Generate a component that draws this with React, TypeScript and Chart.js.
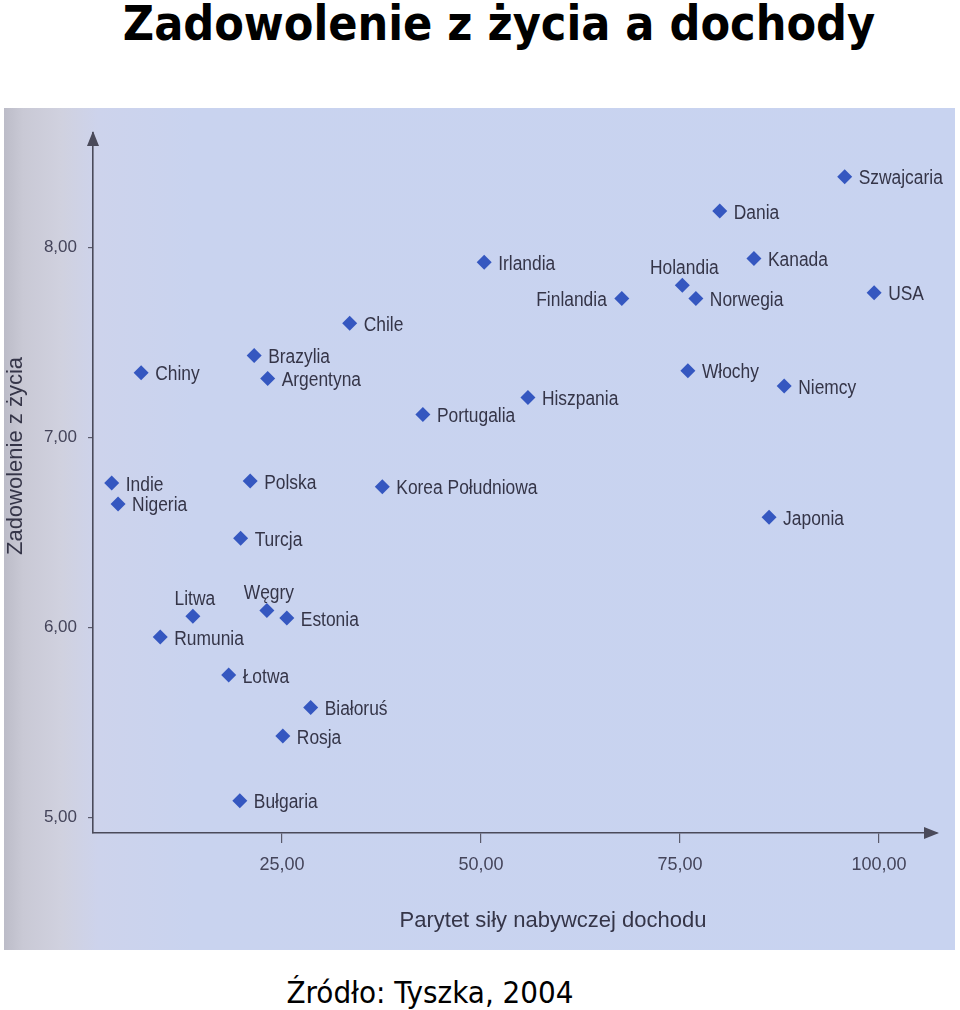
import React, { useEffect, useRef } from "react";
import { Chart, registerables } from "chart.js";

Chart.register(...registerables);

const countries = [
  "Szwajcaria", "Dania", "Irlandia", "Kanada", "Holandia", "Norwegia", "Finlandia", "USA",
  "Chile", "Brazylia", "Argentyna", "Chiny", "Włochy", "Niemcy", "Hiszpania", "Portugalia",
  "Indie", "Nigeria", "Polska", "Korea Południowa", "Japonia", "Turcja", "Węgry", "Estonia",
  "Litwa", "Rumunia", "Łotwa", "Białoruś", "Rosja", "Bułgaria",
];
const incomeParity = [
  95.7, 80.0, 50.4, 84.3, 75.3, 77.0, 67.7, 99.4,
  33.5, 21.5, 23.2, 7.3, 76.0, 88.1, 55.9, 42.7,
  3.6, 4.4, 21.0, 37.6, 86.2, 19.8, 23.1, 25.6,
  13.8, 9.7, 18.3, 28.6, 25.1, 19.7,
];
const lifeSatisfaction = [
  8.37, 8.19, 7.92, 7.94, 7.80, 7.73, 7.73, 7.76,
  7.60, 7.43, 7.31, 7.34, 7.35, 7.27, 7.21, 7.12,
  6.76, 6.65, 6.77, 6.74, 6.58, 6.47, 6.09, 6.05,
  6.06, 5.95, 5.75, 5.58, 5.43, 5.09,
];
const xTickValues = [25, 50, 75, 100];
const yTickValues = [5, 6, 7, 8];
const labelsAbove = ["Holandia", "Węgry", "Litwa"];
const labelsLeft = ["Finlandia"];

const xAxisTitle = "Parytet siły nabywczej dochodu";
const yAxisTitle = "Zadowolenie z życia";
const chartTitle = "Zadowolenie z życia a dochody";
const sourceText = "Źródło: Tyszka, 2004";

const SCAN_FONT = "'Liberation Sans', Arial, sans-serif";
const TITLE_FONT = "'DejaVu Sans Condensed', 'DejaVu Sans', Verdana, sans-serif";
const LABEL_SQUEEZE = 0.87;

const fmt = (v: number) => Number(v).toFixed(2).replace(".", ",");

export default function App() {
  const ref = useRef<HTMLCanvasElement>(null);

  useEffect(() => {
    if (!ref.current) return;
    const overlay = {
      id: "overlay",
      afterDatasetsDraw(chart: any) {
        const c = chart.ctx as CanvasRenderingContext2D;
        const meta = chart.getDatasetMeta(0);
        const a = chart.chartArea;
        c.save();
        // point labels (slightly condensed, like the scanned original)
        c.font = `20px ${SCAN_FONT}`;
        c.fillStyle = "#353548";
        c.textBaseline = "middle";
        meta.data.forEach((pt: any, i: number) => {
          const name = countries[i];
          const { x, y } = pt.getProps(["x", "y"], true);
          let tx = x + 14;
          let ty = y + 2;
          let align: CanvasTextAlign = "left";
          if (labelsAbove.includes(name)) {
            tx = x + 2;
            ty = y - 17;
            align = "center";
          } else if (labelsLeft.includes(name)) {
            tx = x - 15;
            align = "right";
          }
          c.save();
          c.translate(tx, ty);
          c.scale(LABEL_SQUEEZE, 1);
          c.textAlign = align;
          c.fillText(name, 0, 0);
          c.restore();
        });
        // arrow heads
        c.fillStyle = "#4a4a5a";
        c.beginPath();
        c.moveTo(a.left, a.top - 2);
        c.lineTo(a.left - 6, a.top + 13);
        c.lineTo(a.left + 6, a.top + 13);
        c.closePath();
        c.fill();
        c.beginPath();
        c.moveTo(a.right + 2, a.bottom);
        c.lineTo(a.right - 13, a.bottom - 6);
        c.lineTo(a.right - 13, a.bottom + 6);
        c.closePath();
        c.fill();
        // axis titles
        c.fillStyle = "#353548";
        c.font = `22px ${SCAN_FONT}`;
        c.textAlign = "center";
        c.textBaseline = "middle";
        c.fillText(xAxisTitle, a.left + 460, a.bottom + 88);
        c.save();
        c.translate(a.left - 77, a.top + 323);
        c.rotate(-Math.PI / 2);
        c.font = `22px ${SCAN_FONT}`;
        c.fillText(yAxisTitle, 0, 0);
        c.restore();
        c.restore();
      },
    };

    const chart = new Chart(ref.current, {
      type: "scatter",
      data: {
        datasets: [
          {
            data: countries.map((_, i) => ({ x: incomeParity[i], y: lifeSatisfaction[i] })),
            pointStyle: "rectRot",
            pointRadius: 7.5,
            pointHoverRadius: 7.5,
            backgroundColor: "#3557c0",
            borderColor: "#3557c0",
            borderWidth: 0,
          },
        ],
      },
      options: {
        animation: false,
        responsive: false,
        maintainAspectRatio: false,
        layout: { padding: { top: 25, right: 18, left: 0, bottom: 0 } },
        plugins: { legend: { display: false }, tooltip: { enabled: false } },
        scales: {
          x: {
            type: "linear",
            min: 1.25,
            max: 107.3,
            afterBuildTicks: (s: any) => {
              s.ticks = xTickValues.map((v) => ({ value: v }));
            },
            afterFit: (s: any) => {
              s.height = 117;
            },
            grid: { drawOnChartArea: false, drawTicks: true, tickLength: 10, color: "#5a5a6a", lineWidth: 1.2 },
            border: { display: true, color: "#4a4a5a", width: 1.6 },
            ticks: {
              callback: (v: any) => fmt(v),
              font: { family: SCAN_FONT, size: 18 },
              color: "#44445a",
              padding: 11,
              maxRotation: 0,
              autoSkip: false,
            },
          },
          y: {
            type: "linear",
            min: 4.92,
            max: 8.6,
            afterBuildTicks: (s: any) => {
              s.ticks = yTickValues.map((v) => ({ value: v }));
            },
            afterFit: (s: any) => {
              s.width = 89;
            },
            grid: { drawOnChartArea: false, drawTicks: true, tickLength: 5, color: "#5a5a6a", lineWidth: 1.2 },
            border: { display: true, color: "#4a4a5a", width: 1.6 },
            ticks: {
              callback: (v: any) => fmt(v),
              font: { family: SCAN_FONT, size: 17 },
              color: "#44445a",
              padding: 11,
              autoSkip: false,
            },
          },
        },
      },
      plugins: [overlay],
    });
    return () => chart.destroy();
  }, []);

  return (
    <div
      style={{
        position: "absolute",
        left: 0,
        top: 0,
        width: 960,
        height: 1010,
        background: "#ffffff",
        overflow: "hidden",
      }}
    >
      <div
        style={{
          position: "absolute",
          left: 20,
          top: -1,
          width: 958,
          textAlign: "center",
          fontFamily: TITLE_FONT,
          fontStretch: "condensed",
          fontWeight: "bold",
          fontSize: 48,
          lineHeight: "48px",
          color: "#000",
          whiteSpace: "nowrap",
        }}
      >
        {chartTitle}
      </div>
      <div
        style={{
          position: "absolute",
          left: 4,
          top: 108,
          width: 951,
          height: 842,
          background:
            "linear-gradient(90deg, #bcbcc8 0%, #c9c9d5 2%, #d0d1df 6%, #cdd3ec 10%, #c9d3ef 20%, #c8d3f0 100%)",
        }}
      >
        <canvas ref={ref} width={951} height={842} style={{ display: "block" }} />
      </div>
      <div
        style={{
          position: "absolute",
          left: 0,
          top: 977,
          width: 860,
          textAlign: "center",
          fontFamily: TITLE_FONT,
          fontStretch: "condensed",
          fontSize: 31,
          lineHeight: "31px",
          color: "#000",
          whiteSpace: "nowrap",
        }}
      >
        {sourceText}
      </div>
    </div>
  );
}
